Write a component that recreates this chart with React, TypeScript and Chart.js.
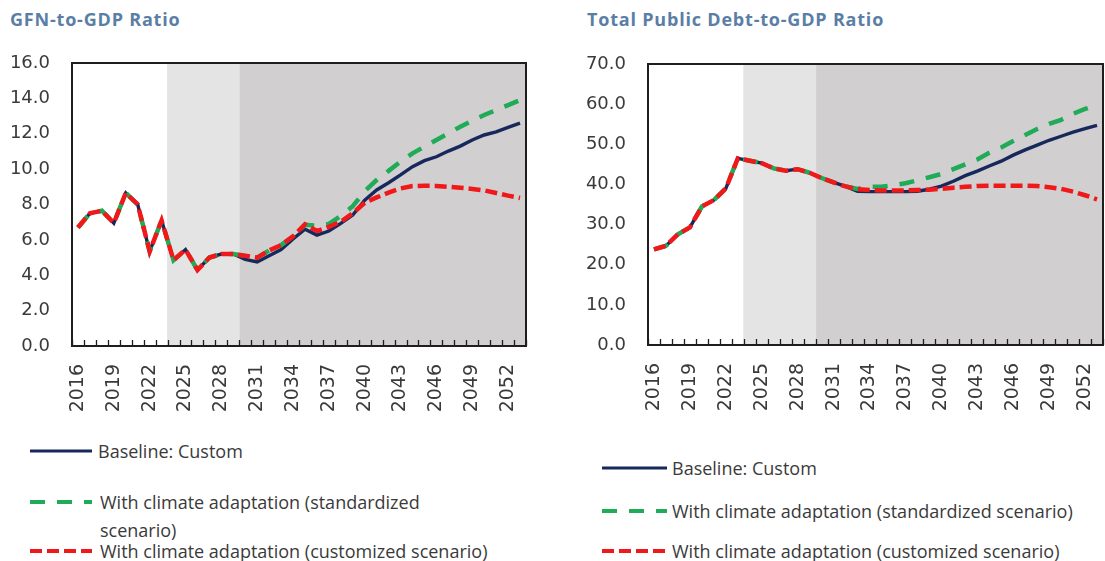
import React, { useEffect, useRef } from "react";
import { Chart, registerables } from "chart.js";

Chart.register(...registerables);

// ---------- data ----------
const years = [
  "2016", "2017", "2018", "2019", "2020", "2021", "2022", "2023", "2024", "2025",
  "2026", "2027", "2028", "2029", "2030", "2031", "2032", "2033", "2034", "2035",
  "2036", "2037", "2038", "2039", "2040", "2041", "2042", "2043", "2044", "2045",
  "2046", "2047", "2048", "2049", "2050", "2051", "2052", "2053",
];

const xTickLabels = [
  "2016", "2019", "2022", "2025", "2028", "2031", "2034", "2037", "2040", "2043", "2046", "2049", "2052",
];

// projection period shading flags (1 = shaded)
const mediumTermFlag = [
  0, 0, 0, 0, 0, 0, 0, 0, 1, 1,
  1, 1, 1, 1, 0, 0, 0, 0, 0, 0,
  0, 0, 0, 0, 0, 0, 0, 0, 0, 0,
  0, 0, 0, 0, 0, 0, 0, 0,
];
const longTermFlag = [
  0, 0, 0, 0, 0, 0, 0, 0, 0, 0,
  0, 0, 0, 0, 1, 1, 1, 1, 1, 1,
  1, 1, 1, 1, 1, 1, 1, 1, 1, 1,
  1, 1, 1, 1, 1, 1, 1, 1,
];

// GFN-to-GDP ratio
const gfnBaseline = [
  6.7, 7.5, 7.65, 6.95, 8.65, 8.0, 5.35, 7.1, 4.85, 5.45,
  4.3, 5.0, 5.2, 5.2, 4.9, 4.75, 5.1, 5.45, 6.05, 6.6,
  6.27, 6.5, 6.93, 7.4, 8.25, 8.82, 9.23, 9.67, 10.14, 10.48,
  10.7, 11.02, 11.3, 11.65, 11.93, 12.11, 12.36, 12.6,
];
const gfnStandardized = [
  6.7, 7.5, 7.65, 6.95, 8.65, 8.0, 5.35, 7.1, 4.85, 5.45,
  4.3, 5.0, 5.2, 5.2, 5.1, 5.0, 5.4, 5.7, 6.2, 6.85,
  6.8, 6.9, 7.35, 7.9, 8.75, 9.38, 9.9, 10.42, 10.89, 11.27,
  11.65, 12.02, 12.4, 12.74, 13.06, 13.34, 13.62, 13.9,
];
const gfnCustomized = [
  6.7, 7.5, 7.65, 6.95, 8.65, 8.0, 5.35, 7.1, 4.85, 5.45,
  4.3, 5.0, 5.2, 5.2, 5.1, 5.0, 5.4, 5.7, 6.2, 6.88,
  6.5, 6.74, 7.03, 7.5, 8.1, 8.4, 8.67, 8.91, 9.04, 9.06,
  9.05, 9.0, 8.95, 8.88, 8.8, 8.65, 8.5, 8.37,
];

// Total public debt-to-GDP ratio
const debtBaseline = [
  23.8, 24.7, 27.6, 29.3, 34.5, 36.1, 39.0, 46.5, 45.9, 45.3,
  44.0, 43.4, 43.8, 42.9, 41.6, 40.5, 39.5, 38.3, 38.2, 38.2,
  38.2, 38.2, 38.3, 38.8, 39.6, 40.8, 42.2, 43.3, 44.6, 45.8,
  47.3, 48.6, 49.8, 51.0, 52.0, 53.0, 53.9, 54.7,
];
const debtStandardized = [
  23.8, 24.7, 27.6, 29.3, 34.5, 36.1, 39.0, 46.5, 45.9, 45.3,
  44.0, 43.4, 43.8, 42.9, 41.6, 40.5, 39.5, 38.9, 39.4, 39.4,
  39.8, 40.3, 41.0, 41.8, 42.6, 43.8, 45.0, 46.2, 47.9, 49.2,
  50.8, 52.3, 53.8, 55.1, 56.1, 57.6, 58.8, 59.8,
];
const debtCustomized = [
  23.8, 24.7, 27.6, 29.3, 34.5, 36.1, 39.0, 46.5, 45.9, 45.3,
  44.0, 43.4, 43.8, 42.9, 41.6, 40.5, 39.5, 38.8, 38.6, 38.5,
  38.5, 38.5, 38.6, 38.7, 38.9, 39.2, 39.4, 39.6, 39.7, 39.7,
  39.7, 39.7, 39.6, 39.3, 38.9, 38.2, 37.3, 36.3,
];

const seriesNames = [
  "Baseline: Custom",
  "With climate adaptation (standardized scenario)",
  "With climate adaptation (customized scenario)",
];

// ---------- styles ----------
const FONT = "'Open Sans', 'Noto Sans', sans-serif";
const TICK_FONT = "'DejaVu Sans', 'Open Sans', sans-serif";
const TEXT = "#3a3a3a";
const NAVY = "#17295c";
const GREEN = "#1fab57";
const RED = "#f01818";
const LIGHT = "#e4e4e4";
const DARK = "#d1cfcf";
const TITLE = "#5a7ea6";
const greenDash = [15, 12];
const redDash = [12, 5];

const framePlugin = {
  id: "frameTicks",
  afterDatasetsDraw(chart: any) {
    const { ctx, chartArea: a } = chart;
    const x = chart.scales.x;
    ctx.save();
    const half = (x.getPixelForValue(1) - x.getPixelForValue(0)) / 2;
    ctx.strokeStyle = "#1e1e1e";
    ctx.lineWidth = 1.3;
    ctx.beginPath();
    for (let i = 0; i <= years.length; i++) {
      const px = Math.round(x.getPixelForValue(i) - half) + 0.5;
      ctx.moveTo(px, a.bottom);
      ctx.lineTo(px, a.bottom - 6);
    }
    ctx.stroke();
    ctx.lineWidth = 2;
    ctx.strokeStyle = "#1e1e1e";
    ctx.strokeRect(a.left, a.top, a.right - a.left, a.bottom - a.top);
    ctx.restore();
  },
};

type PanelProps = {
  left: number;
  width: number;
  height: number;
  areaLeft: number;
  areaTop: number;
  areaRight: number;
  areaBottom: number;
  yMax: number;
  yStep: number;
  baseline: number[];
  standardized: number[];
  customized: number[];
};

function Panel(p: PanelProps) {
  const ref = useRef<HTMLCanvasElement | null>(null);
  useEffect(() => {
    if (!ref.current) return;
    const band = (flags: number[]) => flags.map((f) => (f ? p.yMax : null));
    const chart = new Chart(ref.current, {
      type: "bar",
      data: {
        labels: years,
        datasets: [
          {
            type: "line",
            label: seriesNames[2],
            data: p.customized,
            borderColor: RED,
            borderWidth: 4.5,
            borderDash: redDash,
            pointRadius: 0,
            tension: 0,
            fill: false,
            order: 1,
          } as any,
          {
            type: "line",
            label: seriesNames[1],
            data: p.standardized,
            borderColor: GREEN,
            borderWidth: 4.5,
            borderDash: greenDash,
            pointRadius: 0,
            tension: 0,
            fill: false,
            order: 2,
          } as any,
          {
            type: "line",
            label: seriesNames[0],
            data: p.baseline,
            borderColor: NAVY,
            borderWidth: 3.4,
            pointRadius: 0,
            tension: 0,
            fill: false,
            order: 3,
          } as any,
          {
            type: "bar",
            label: "medium term",
            data: band(mediumTermFlag),
            backgroundColor: LIGHT,
            borderWidth: 0,
            barPercentage: 1,
            categoryPercentage: 1,
            grouped: false,
            inflateAmount: 0.5,
            order: 5,
          } as any,
          {
            type: "bar",
            label: "long term",
            data: band(longTermFlag),
            backgroundColor: DARK,
            borderWidth: 0,
            barPercentage: 1,
            categoryPercentage: 1,
            grouped: false,
            inflateAmount: 0.5,
            order: 5,
          } as any,
        ],
      },
      options: {
        responsive: false,
        animation: false,
        devicePixelRatio: 1,
        layout: {
          padding: {
            top: p.areaTop,
            right: p.width - p.areaRight,
            bottom: 0,
            left: 0,
          },
        },
        plugins: {
          legend: { display: false },
          tooltip: { enabled: false },
        },
        events: [],
        scales: {
          x: {
            type: "category",
            offset: true,
            grid: { display: false, drawTicks: false },
            border: { display: false },
            ticks: {
              autoSkip: false,
              minRotation: 90,
              maxRotation: 90,
              padding: 18,
              color: TEXT,
              font: { family: TICK_FONT, size: 19 },
              callback: (_v: any, i: number) =>
                xTickLabels.includes(years[i]) ? years[i] : "",
            },
            afterFit: (s: any) => {
              s.height = p.height - p.areaBottom;
              s.paddingLeft = 0;
              s.paddingRight = 0;
            },
          },
          y: {
            min: 0,
            max: p.yMax,
            grid: { display: false, drawTicks: false },
            border: { display: false },
            ticks: {
              stepSize: p.yStep,
              padding: 22,
              color: TEXT,
              font: { family: TICK_FONT, size: 18 },
              callback: (v: any) => Number(v).toFixed(1),
            },
            afterFit: (s: any) => {
              s.width = p.areaLeft;
              s.paddingTop = 0;
              s.paddingBottom = 0;
            },
          },
        },
      },
      plugins: [framePlugin],
    });
    return () => chart.destroy();
  }, []);
  return (
    <canvas
      ref={ref}
      width={p.width}
      height={p.height}
      style={{ position: "absolute", left: p.left, top: 0, width: p.width, height: p.height }}
    />
  );
}

type LegendProps = {
  x: number;
  y: number;
  sampleW: number;
  textX: number;
  color: string;
  lw: number;
  dash?: number[];
  lines: string[];
};

function LegendRow(l: LegendProps) {
  return (
    <>
      <svg
        width={l.sampleW}
        height={10}
        style={{ position: "absolute", left: l.x, top: l.y - 5 }}
      >
        <line
          x1={0}
          y1={5}
          x2={l.sampleW}
          y2={5}
          stroke={l.color}
          strokeWidth={l.lw}
          strokeDasharray={l.dash ? l.dash.join(" ") : undefined}
        />
      </svg>
      <div
        style={{
          position: "absolute",
          left: l.textX,
          top: l.y - 14,
          fontFamily: FONT,
          fontSize: 18,
          lineHeight: "28px",
          color: TEXT,
          whiteSpace: "nowrap",
        }}
      >
        {l.lines.map((t, i) => (
          <div key={i}>{t}</div>
        ))}
      </div>
    </>
  );
}

const titleStyle: React.CSSProperties = {
  position: "absolute",
  top: 7,
  fontFamily: FONT,
  fontWeight: 700,
  fontSize: 18,
  letterSpacing: "0.8px",
  color: TITLE,
  whiteSpace: "nowrap",
};

export default function App() {
  return (
    <div
      style={{
        position: "fixed",
        left: 0,
        top: 0,
        width: 1105,
        height: 561,
        background: "#fff",
        overflow: "hidden",
      }}
    >
      <div style={{ ...titleStyle, left: 10 }}>GFN-to-GDP Ratio</div>
      <div style={{ ...titleStyle, left: 587 }}>Total Public Debt-to-GDP Ratio</div>

      <Panel
        left={0}
        width={545}
        height={420}
        areaLeft={72}
        areaTop={63}
        areaRight={526}
        areaBottom={346}
        yMax={16}
        yStep={2}
        baseline={gfnBaseline}
        standardized={gfnStandardized}
        customized={gfnCustomized}
      />
      <Panel
        left={560}
        width={545}
        height={420}
        areaLeft={88}
        areaTop={64}
        areaRight={543}
        areaBottom={345}
        yMax={70}
        yStep={10}
        baseline={debtBaseline}
        standardized={debtStandardized}
        customized={debtCustomized}
      />

      <LegendRow x={30} y={451} sampleW={62} textX={98} color={NAVY} lw={3} lines={[seriesNames[0]]} />
      <LegendRow
        x={30}
        y={502}
        sampleW={62}
        textX={100}
        color={GREEN}
        lw={4}
        dash={greenDash}
        lines={["With climate adaptation (standardized", "scenario)"]}
      />
      <LegendRow x={30} y={551} sampleW={62} textX={100} color={RED} lw={4} dash={redDash} lines={[seriesNames[2]]} />

      <LegendRow x={602} y={468} sampleW={65} textX={672} color={NAVY} lw={3} lines={[seriesNames[0]]} />
      <LegendRow x={602} y={511} sampleW={65} textX={672} color={GREEN} lw={4} dash={greenDash} lines={[seriesNames[1]]} />
      <LegendRow x={602} y={551} sampleW={65} textX={672} color={RED} lw={4} dash={redDash} lines={[seriesNames[2]]} />
    </div>
  );
}
